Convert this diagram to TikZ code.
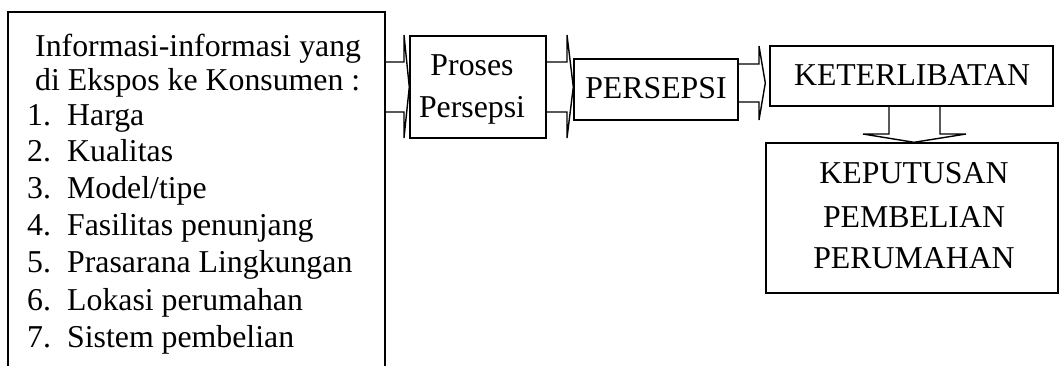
\documentclass[tikz,border=0pt]{standalone}
\usepackage{fontspec}
\setmainfont{Liberation Serif}
\usetikzlibrary{calc}
\begin{document}
\begin{tikzpicture}[x=1pt,y=-1pt,
  box/.style={draw,line width=1.4pt,fill=white,inner sep=0pt},
  blk/.style={draw,line width=1.4pt,line join=miter},
  txt/.style={inner sep=0pt,font=\fontsize{31.8}{36}\selectfont},
  lt/.style={txt,anchor=base west},
  ct/.style={txt,anchor=base}]
\useasboundingbox (0,0) rectangle (1061,365);
\clip (0,0) rectangle (1061,365);
% box frames (placed first so that the block arrows can refer to them)
\node[box,minimum width=377pt,minimum height=408pt] (lb) at (196.5,216) {};
\node[box,draw=none,fill=none,minimum width=136pt,minimum height=102pt] (pp0) at (478,87) {};
\node[box,draw=none,fill=none,minimum width=164pt,minimum height=61pt] (ps0) at (656,89.5) {};
\node[box,draw=none,fill=none,minimum width=283pt,minimum height=60pt] (kt0) at (911.5,76) {};
\node[box,draw=none,fill=none,minimum width=292pt,minimum height=150pt] (kp0) at (912,218) {};
% block arrows
\draw[blk] (lb.east |- 0,62) -- (404,62) -- (404,35) -- (pp0.west |- 0,87) -- (404,138) -- (404,112) -- (lb.east |- 0,112);
\draw[blk] (pp0.east |- 0,62) -- (567,62) -- (567,35) -- (ps0.west |- 0,87) -- (567,138) -- (567,112) -- (pp0.east |- 0,112);
\draw[blk] (ps0.east |- 0,64) -- (759,64) -- (759,46) -- ($(kt0.west |- 0,83)+(-4,0)$) -- (759,120) -- (759,102) -- (ps0.east |- 0,102);
\draw[blk] (889,0 |- kt0.south) -- (889,134) -- (863,134) -- (kp0.north -| 914,0) -- (966,134) -- (940,134) -- (940,0 |- kt0.south);
% visible boxes
\node[box,minimum width=136pt,minimum height=102pt] (pp) at (pp0) {};
\node[box,minimum width=164pt,minimum height=61pt] (ps) at (ps0) {};
\node[box,minimum width=283pt,minimum height=60pt] (kt) at (kt0) {};
\node[box,minimum width=292pt,minimum height=150pt] (kp) at (kp0) {};
% texts
\node[lt] (t1) at (35,56) {Informasi-informasi yang};
\node[lt] (t2) at (35,90) {di Ekspos ke Konsumen :};
\node[lt] (i1) at (27,125) {\makebox[40pt][l]{1.}Harga};
\node[lt] (i2) at (27,161) {\makebox[40pt][l]{2.}Kualitas};
\node[lt] (i3) at (27,198) {\makebox[40pt][l]{3.}Model/tipe};
\node[lt] (i4) at (27,235) {\makebox[40pt][l]{4.}Fasilitas penunjang};
\node[lt] (i5) at (27,272) {\makebox[40pt][l]{5.}Prasarana Lingkungan};
\node[lt] (i6) at (27,310) {\makebox[40pt][l]{6.}Lokasi perumahan};
\node[lt] (i7) at (27,347) {\makebox[40pt][l]{7.}Sistem pembelian};
\node[ct] (p1) at (472,75) {Proses};
\node[ct] (p2) at (472,117) {Persepsi};
\node[ct] (s1) at (656,98) {PERSEPSI};
\node[ct] (k1) at (912,85) {KETERLIBATAN};
\node[ct] (d1) at (914,183) {KEPUTUSAN};
\node[ct] (d2) at (914,227) {PEMBELIAN};
\node[ct] (d3) at (914,268) {PERUMAHAN};
\end{tikzpicture}
\end{document}
